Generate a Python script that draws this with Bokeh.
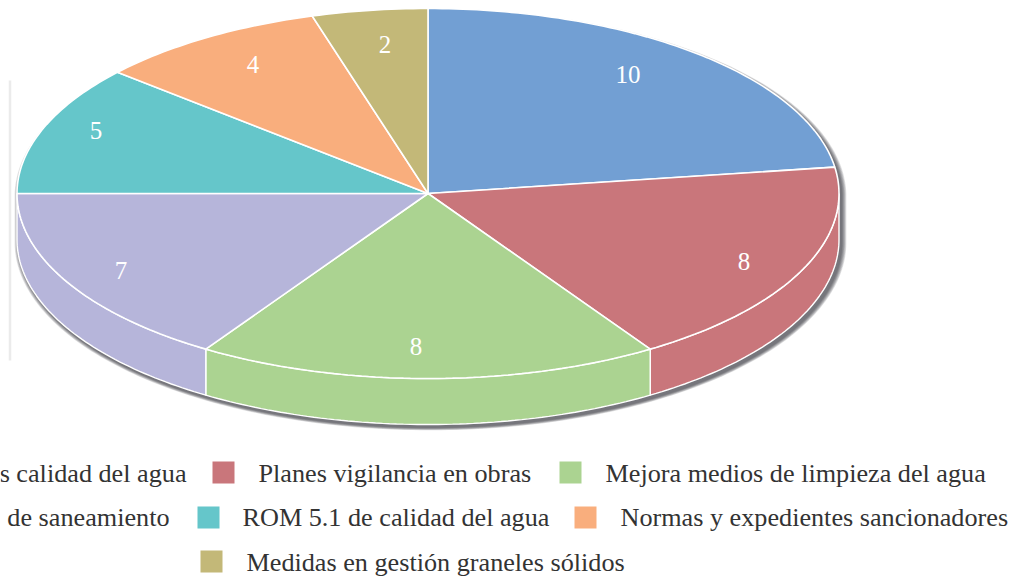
import numpy as np
from bokeh.plotting import figure
from bokeh.embed import file_html
from bokeh.resources import INLINE
from bokeh.core.properties import value

# data
categories = ["s calidad del agua", "Planes vigilancia en obras", "Mejora medios de limpieza del agua",
              "de saneamiento", "ROM 5.1 de calidad del agua", "Normas y expedientes sancionadores",
              "Medidas en gestión graneles sólidos"]
values = [10, 8, 8, 7, 5, 4, 2]
colors = ["#729FD3", "#C9767B", "#ABD391", "#B6B5DA", "#65C6CA", "#F9AE7D", "#C3B878"]

# layout (page pixels)
CX, CY, RX, RY, DEPTH = 427.5, 193, 411, 185, 46
label_dx = [200, 316, -12, -307, -332, -175, -43]
label_dy = [-119, 68, 153, 77, -63, -129, -149]
legend_rows = [[(0, 186, "right"), (1, 258, "left"), (2, 605, "left")],
               [(3, 169, "right"), (4, 242, "left"), (5, 620, "left")],
               [(6, 246, "left")]]
row_y = [473, 517, 562]
box_y = [472, 517, 561]
row_boxes = [[(1, 212), (2, 559)], [(4, 197), (5, 574)], [(6, 200)]]
FONT = "Liberation Serif"
TEXT_SIZE = "26.2px"

p = figure(width=1027, height=579, x_range=(0, 1027), y_range=(579, 0), output_backend="svg",
           toolbar_location=None, min_border=0, outline_line_color=None,
           background_fill_color="white", border_fill_color="white")
p.axis.visible = False
p.grid.visible = False

edges = np.cumsum([0] + values) / sum(values) * 2 * np.pi


def arc(a0, a1, dy=0.0):
    t = np.linspace(a0, a1, max(int((a1 - a0) * 60), 2))
    return CX + RX * np.sin(t), CY - RY * np.cos(t) + dy


# faint artefact line at the left of the picture
p.line([9.5, 9.5], [80, 360], line_color="#e2e2e2", line_width=2.5, line_alpha=0.7)

# soft drop shadow below the disc
t_all = np.linspace(0, 2 * np.pi, 360)
wall = np.where(np.cos(t_all) < 0, DEPTH, 0)
for k in range(7, 0, -1):
    sx = CX + 2.5 + (RX + k * 0.7) * np.sin(t_all)
    sy = CY + 3 - (RY + k * 0.4) * np.cos(t_all) + wall
    p.patch(sx, sy, fill_color="#30343c", fill_alpha=0.14, line_color=None)

# walls
for i in range(len(values)):
    a0, a1 = max(edges[i], np.pi / 2), min(edges[i + 1], 3 * np.pi / 2)
    if a1 <= a0:
        continue
    x0, y0 = arc(a0, a1)
    x1, y1 = arc(a0, a1, DEPTH)
    p.patch(np.r_[x0, x1[::-1]], np.r_[y0, y1[::-1]], fill_color=colors[i],
            line_color="white", line_width=1.4)

# top faces
for i in range(len(values)):
    x0, y0 = arc(edges[i], edges[i + 1])
    p.patch(np.r_[CX, x0], np.r_[CY, y0], fill_color=colors[i], line_color="white", line_width=1.6)

# value labels
p.text([CX + d for d in label_dx], [CY + d for d in label_dy], text=[str(v) for v in values],
       text_color="white", text_font=value(FONT), text_font_size="25px",
       text_align="center", text_baseline="middle")

# legend
for r, y in enumerate(row_y):
    for idx, bx in row_boxes[r]:
        p.quad(left=[bx], right=[bx + 22], top=[box_y[r] - 11], bottom=[box_y[r] + 11],
               fill_color=colors[idx], line_color=None)
    for idx, tx, align in legend_rows[r]:
        p.text([tx], [y], text=[categories[idx]], text_color="#333333", text_font=value(FONT),
               text_font_size=TEXT_SIZE, text_align=align, text_baseline="middle")

open("out.html", "w").write(file_html(p, INLINE))
